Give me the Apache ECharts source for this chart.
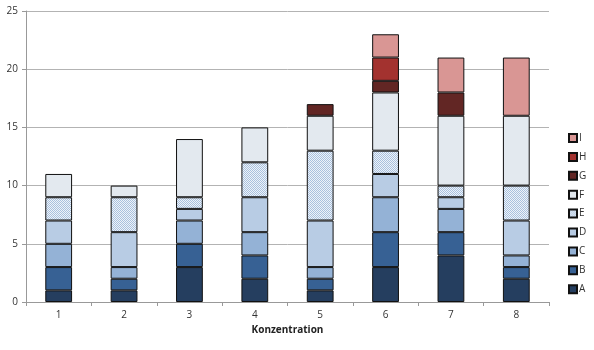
<!DOCTYPE html>
<html><head><meta charset="utf-8">
<script src="https://cdn.jsdelivr.net/npm/echarts@6/dist/echarts.min.js"></script>
<style>html,body{margin:0;padding:0;background:#fff}#c{width:594px;height:350px}</style>
</head><body><div id="c"></div>
<script>
const categories = ['1','2','3','4','5','6','7','8'];
const seriesNames = ['A','B','C','D','E','F','G','H','I'];
const A = [1,1,3,2,1,3,4,2];
const B = [2,1,2,2,1,3,2,1];
const C = [2,1,2,2,1,3,2,1];
const D = [2,3,1,3,4,2,1,3];
const E = [2,3,1,3,6,2,1,3];
const F = [2,1,5,3,3,5,6,6];
const G = [0,0,0,0,1,1,2,0];
const H = [0,0,0,0,0,2,0,0];
const I = [0,0,0,0,0,2,3,5];
const values = [A,B,C,D,E,F,G,H,I];
const yTicks = {min:0, max:25, interval:5};

function checker(c1, c2){
  const cv = document.createElement('canvas');
  cv.width = 2; cv.height = 2;
  const ctx = cv.getContext('2d');
  ctx.fillStyle = c2; ctx.fillRect(0,0,2,2);
  ctx.fillStyle = c1; ctx.fillRect(0,0,1,1); ctx.fillRect(1,1,1,1);
  return {image: cv, repeat: 'repeat'};
}
const colors = ['#253E5F','#376194','#94B2D6','#B8CCE4', checker('#A9C1DE','#EEF3F9'), '#E3E9EF','#622624','#A3322F','#D99694'];

const chart = echarts.init(document.getElementById('c'));
chart.setOption({
  animation:false,
  textStyle:{fontFamily:'Open Sans'},
  grid:{left:26, right:45, top:11, bottom:48, containLabel:false},
  legend:{
    data: seriesNames.slice().reverse(),
    orient:'vertical', left:563, top:128, itemGap:8.9,
    itemWidth:8, itemHeight:8,
    textStyle:{fontSize:10, color:'#333', padding:[0,0,0,-3]},
    icon:'rect'
  },
  xAxis:{
    type:'category', data:categories,
    name:'Konzentration', nameLocation:'middle', nameGap:22,
    nameTextStyle:{fontSize:10, fontWeight:'bold', color:'#222'},
    axisLine:{lineStyle:{color:'#999'}},
    axisTick:{show:true, length:4, lineStyle:{color:'#999'}},
    axisLabel:{fontSize:10, color:'#333', margin:8}
  },
  yAxis:{
    type:'value', min:yTicks.min, max:yTicks.max, interval:yTicks.interval,
    axisLine:{show:true, lineStyle:{color:'#999'}},
    axisTick:{show:true, length:4, lineStyle:{color:'#999'}},
    axisLabel:{fontSize:10, color:'#333', margin:8},
    splitLine:{lineStyle:{color:'#b3b3b3'}}
  },
  series: seriesNames.map((n,i)=>({
    name:n, type:'bar', stack:'total',
    data:values[i].map(v => v === 0 ? '-' : v),
    barWidth:'41%',
    itemStyle:{color:colors[i], borderColor:'#111', borderWidth:1}
  }))
});
</script></body></html>
